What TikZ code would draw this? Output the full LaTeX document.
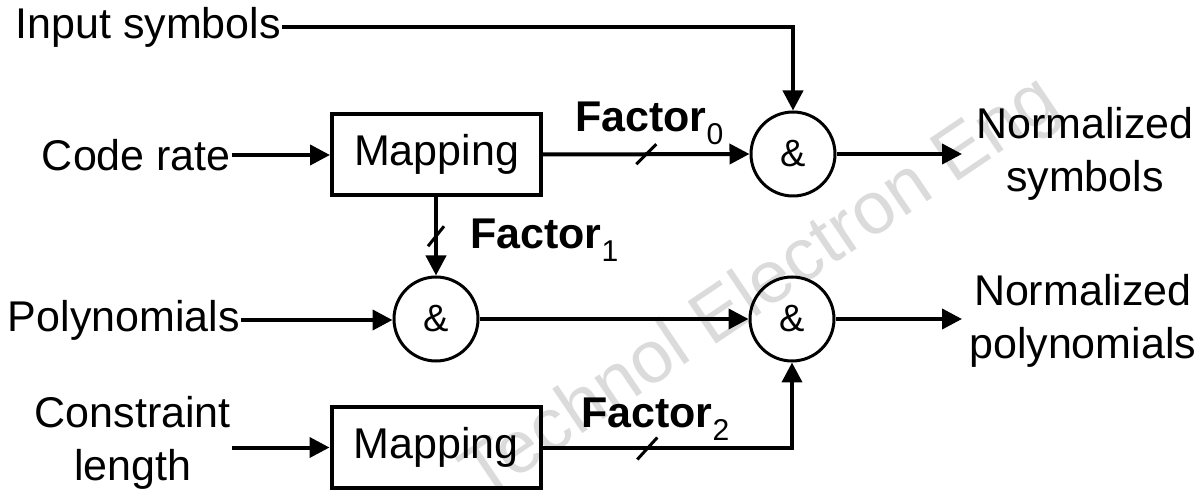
\documentclass[tikz,border=0pt]{standalone}
\usepackage{fontspec}
\setmainfont{Liberation Sans}
\usetikzlibrary{arrows.meta,calc}
\begin{document}
\begin{tikzpicture}[x=1pt,y=-1pt,
  every node/.style={font=\fontsize{43}{53}\selectfont},
  lbl/.style={inner sep=1pt},
  blk/.style={draw,line width=4pt,minimum width=209pt,minimum height=81pt,inner sep=0pt},
  andc/.style={draw,circle,line width=3pt,minimum size=84pt,inner sep=0pt,font=\fontsize{38}{44}\selectfont},
  fac/.style={font=\fontsize{43}{50}\selectfont\bfseries,inner sep=0pt},
  conn/.style={line width=4pt},
  arr/.style={conn,-{Triangle[length=20pt,width=20pt]}},
  slashmark/.style={line width=3pt},
  wm/.style={font=\fontsize{74}{80}\selectfont,text=black!14,rotate=34}
]
\useasboundingbox (0,0) rectangle (1200,494);
% watermark
\node[wm] (wmk) at (762,290) {Technol Electron Eng};
% blocks
\node[blk] (m1) at (436.5,154.5) {Mapping};
\node[blk] (m2) at (436,447.5) {Mapping};
\node[andc] (c1) at (793,154) {\&};
\node[andc] (c2) at (436,319) {\&};
\node[andc] (c3) at (792,319) {\&};
% inputs
\node[lbl,anchor=east] (ins) at (282,27) {Input symbols};
\node[lbl,anchor=east] (cr) at (232,155) {Code rate};
\node[lbl,anchor=east] (poly) at (241,320) {Polynomials};
\node[lbl,align=center,anchor=east] (cl) at (232,443) {Constraint\\length};
% outputs
\node[lbl,align=center,anchor=west] (ns) at (975,154) {Normalized\\symbols};
\node[lbl,align=center,anchor=west] (np) at (968,321) {Normalized\\polynomials};
\coordinate (o1) at (962,154);
\coordinate (o2) at (962,319);
% connectors
\draw[arr] (ins.east) -- (ins.east -| c1.north) -- (c1.north);
\draw[arr] (cr.east) -- (cr.east -| m1.west);
\draw[arr] (m1.east) -- coordinate[pos=0.5] (s0) (c1.west);
\draw[arr] (c1.east) -- (o1);
\draw[arr] (c2.north |- m1.south) -- coordinate[pos=0.5] (s1) (c2.north);
\draw[arr] (poly.east) -- (poly.east -| c2.west);
\draw[arr] (c2.east) -- (c3.west);
\draw[arr] (c3.east) -- (o2);
\draw[arr] (cl.east |- m2.west) -- (m2.west);
\draw[arr] (m2.east) -- coordinate[pos=0.42] (s2) (m2.east -| c3.south) -- (c3.south);
% slash marks
\draw[slashmark] ($(s0)+(-10,10)$) -- ($(s0)+(10,-10)$);
\draw[slashmark] ($(s1)+(-8,10)$) -- ($(s1)+(8,-10)$);
\draw[slashmark] ($(s2)+(-10,12)$) -- ($(s2)+(10,-10)$);
% factor labels
\node[fac,anchor=base west] (f0) at (575,132) {Factor\textmd{\textsubscript{0}}};
\node[fac,anchor=base west] (f1) at (470,249) {Factor\textmd{\textsubscript{1}}};
\node[fac,anchor=base west] (f2) at (581,428) {Factor\textmd{\textsubscript{2}}};
\end{tikzpicture}
\end{document}
